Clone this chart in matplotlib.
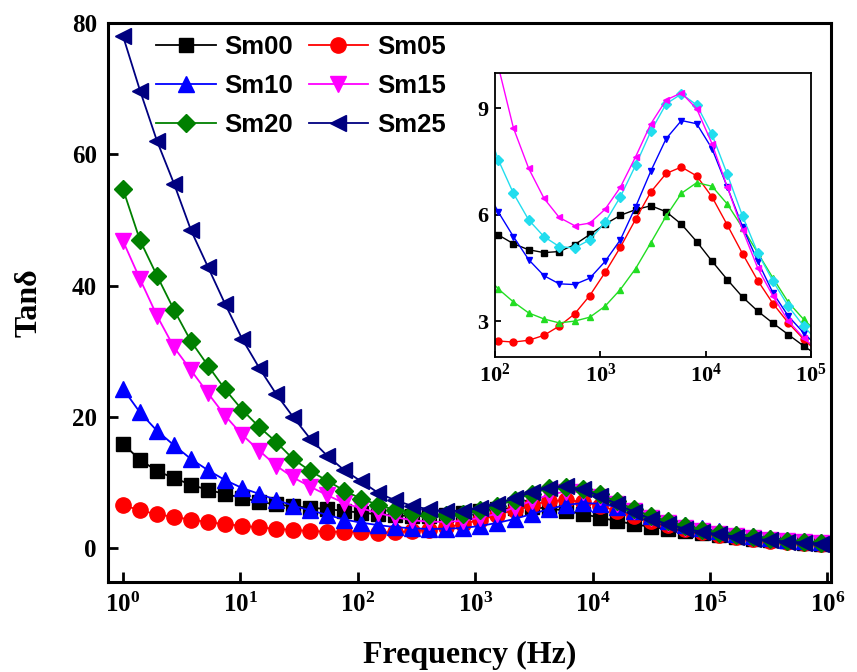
import numpy as np
import matplotlib
matplotlib.use("Agg")
import matplotlib.pyplot as plt
from matplotlib.ticker import FixedLocator, FuncFormatter, NullLocator

# frequency grid (Hz)
freq = [1.0, 1.396, 1.950, 2.723, 3.802, 5.309, 7.413, 10.35, 14.45, 20.18,
        28.18, 39.36, 54.95, 76.74, 107.2, 149.6, 208.9, 291.7, 407.4, 568.9,
        794.3, 1109, 1549, 2163, 3020, 4217, 5888, 8222, 11482, 16032,
        22387, 31261, 43652, 60954, 85114, 118850, 165959, 231739, 323594, 451856,
        630957, 881049]

labels = ["Sm00", "Sm05", "Sm10", "Sm15", "Sm20", "Sm25"]

sm00 = [15.9, 13.5, 11.8, 10.7, 9.7, 8.9, 8.3, 7.7, 7.1, 6.7, 6.4, 6.2, 6.0, 5.7,
        5.44, 5.19, 5.02, 4.94, 4.97, 5.16, 5.45, 5.74, 5.99, 6.15, 6.26, 6.09, 5.74,
        5.25, 4.70, 4.18, 3.69, 3.29, 2.95, 2.63, 2.31,
        2.02, 1.75, 1.5, 1.27, 1.07, 0.9, 0.75]
sm05 = [6.6, 5.8, 5.2, 4.8, 4.4, 4.0, 3.7, 3.45, 3.2, 3.0, 2.8, 2.65, 2.55, 2.5,
        2.45, 2.42, 2.47, 2.61, 2.87, 3.21, 3.73, 4.38, 5.09, 5.88, 6.65, 7.17, 7.35,
        7.10, 6.51, 5.72, 4.91, 4.15, 3.50, 2.96, 2.50,
        2.1, 1.75, 1.45, 1.2, 1.0, 0.85, 0.7]
sm10 = [24.3, 20.7, 17.9, 15.7, 13.6, 11.9, 10.4, 9.2, 8.3, 7.4, 6.5, 5.8, 5.1, 4.4,
        3.92, 3.55, 3.24, 3.07, 2.96, 3.01, 3.12, 3.43, 3.90, 4.49, 5.22, 5.97, 6.61,
        6.91, 6.81, 6.31, 5.64, 4.93, 4.22, 3.54, 3.06,
        2.65, 2.25, 1.9, 1.6, 1.35, 1.15, 0.95]
sm15 = [46.8, 41.0, 35.4, 30.6, 27.1, 23.6, 20.2, 17.3, 14.9, 12.6, 10.8, 9.4, 8.1, 6.9,
        6.09, 5.39, 4.74, 4.29, 4.06, 4.04, 4.22, 4.69, 5.30, 6.23, 7.24, 8.15, 8.66,
        8.57, 7.87, 6.79, 5.67, 4.69, 3.80, 3.15, 2.68,
        2.25, 1.9, 1.6, 1.35, 1.12, 0.95, 0.8]
sm20 = [54.7, 46.9, 41.5, 36.3, 31.5, 27.8, 24.2, 21.1, 18.5, 16.2, 13.6, 11.8, 10.3, 8.8,
        7.56, 6.61, 5.86, 5.39, 5.11, 5.07, 5.30, 5.79, 6.51, 7.40, 8.36, 9.13, 9.41,
        9.10, 8.27, 7.15, 5.97, 4.93, 4.13, 3.43, 2.87,
        2.4, 2.0, 1.7, 1.42, 1.2, 1.0, 0.85]
sm25 = [78.0, 69.7, 62.0, 55.5, 48.4, 42.8, 37.2, 31.9, 27.5, 23.5, 20.0, 16.7, 14.1, 11.9,
        10.2, 8.45, 7.31, 6.47, 5.93, 5.70, 5.77, 6.16, 6.78, 7.64, 8.57, 9.24, 9.44,
        8.99, 8.01, 6.79, 5.58, 4.50, 3.71, 3.01, 2.54,
        2.15, 1.8, 1.5, 1.25, 1.05, 0.9, 0.75]

series = [sm00, sm05, sm10, sm15, sm20, sm25]
markers = ["s", "o", "^", "v", "D", "<"]
main_colors = ["black", "red", "blue", "magenta", "green", "navy"]
main_ms = [9.5, 11, 11, 11, 9, 11]
inset_colors = ["black", "red", "#22dd22", "blue", "#22ddee", "magenta"]

plt.rcParams["font.family"] = ["Liberation Serif"]
plt.rcParams["font.weight"] = "bold"
plt.rcParams["mathtext.fontset"] = "custom"
plt.rcParams["mathtext.rm"] = "Liberation Serif:bold"
plt.rcParams["mathtext.it"] = "Liberation Serif:bold:italic"
plt.rcParams["mathtext.bf"] = "Liberation Serif:bold"

def pow10(v, pos):
    return r"$\mathregular{10^{%d}}$" % round(np.log10(v))

fig = plt.figure(figsize=(8.57, 6.72), dpi=100)
ax = fig.add_axes([0.126, 0.134, 0.844, 0.832])

lines = []
for ys, m, c, ms, lab in zip(series, markers, main_colors, main_ms, labels):
    ln, = ax.plot(freq, ys, marker=m, color=c, ms=ms, mec=c, mfc=c, lw=1.3, label=lab)
    lines.append(ln)

ax.set_xscale("log")
ax.set_xlim(0.745, 1.08e6)
ax.set_ylim(-5.1, 80)
ax.xaxis.set_major_locator(FixedLocator([1, 10, 100, 1e3, 1e4, 1e5, 1e6]))
ax.xaxis.set_major_formatter(FuncFormatter(pow10))
ax.xaxis.set_minor_locator(NullLocator())
ax.set_yticks([0, 20, 40, 60, 80])
ax.tick_params(direction="in", width=2, length=7, labelsize=18, pad=8)
for s in ax.spines.values():
    s.set_linewidth(2.2)
ax.set_xlabel("Frequency (Hz)", fontsize=23, fontweight="bold", labelpad=17)
ax.set_ylabel("Tanδ", fontsize=23, fontweight="bold", labelpad=20)

order = [0, 2, 4, 1, 3, 5]
leg = ax.legend([lines[i] for i in order], [labels[i] for i in order], ncol=2,
                loc="upper left", bbox_to_anchor=(0.035, 1.02), frameon=False,
                prop={"family": "Liberation Sans", "weight": "bold", "size": 18.5},
                handlelength=2.3, columnspacing=0.6, labelspacing=0.58, handletextpad=0.35)

ins = fig.add_axes([0.5776, 0.4688, 0.3687, 0.4226])
for ys, m, c in zip(series, markers, inset_colors):
    ins.plot(freq, ys, marker=m, color=c, ms=5, mec=c, mfc=c, lw=1.0)
ins.set_xscale("log")
ins.set_xlim(100, 1e5)
ins.set_ylim(2.0, 10.0)
ins.xaxis.set_major_locator(FixedLocator([1e2, 1e3, 1e4, 1e5]))
ins.xaxis.set_major_formatter(FuncFormatter(pow10))
ins.xaxis.set_minor_locator(NullLocator())
ins.set_yticks([3, 6, 9])
ins.tick_params(direction="in", width=1.3, length=4, labelsize=16, pad=5)
for s in ins.spines.values():
    s.set_linewidth(1.3)

fig.savefig("out.png", dpi=100)
